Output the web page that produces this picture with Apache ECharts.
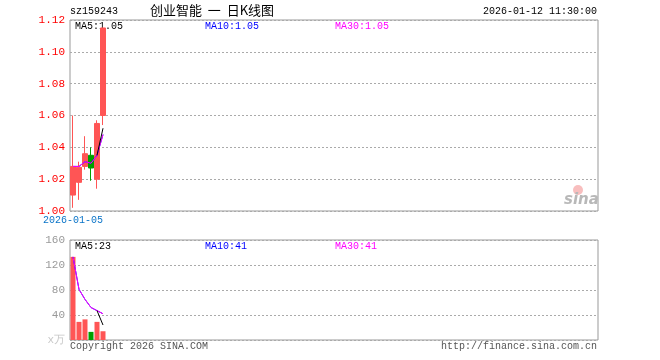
<!DOCTYPE html>
<html><head><meta charset="utf-8">
<script src="https://cdn.jsdelivr.net/npm/echarts@6/dist/echarts.min.js"></script>
<style>html,body{margin:0;padding:0;background:#fff}#c{width:660px;height:360px}</style>
</head><body><div id="c"></div>
<script>
const SLOTS = 88;
const dates = ['2026-01-05','2026-01-06','2026-01-07','2026-01-08','2026-01-09','2026-01-12'];
// [open, close, low, high]
const ohlc = [
  [1.010, 1.028, 1.002, 1.060],
  [1.018, 1.0275, 1.007, 1.031],
  [1.028, 1.036, 1.026, 1.047],
  [1.035, 1.027, 1.019, 1.040],
  [1.020, 1.055, 1.014, 1.057],
  [1.060, 1.115, 1.054, 1.115]
];
const ma5 = [null, null, null, null, 1.035, 1.052];
const ma10 = [1.028, 1.028, 1.031, 1.030, 1.035, 1.048];
const ma30 = [1.028, 1.028, 1.031, 1.030, 1.035, 1.048];
const volume = [133, 29, 33, 13, 29, 14];
const volMa5 = [null, null, null, null, 47, 24];
const volMa10 = [133, 81, 65, 52, 47, 42];
const volMa30 = [133, 81, 65, 52, 47, 42];
const priceTicks = {min: 1.00, max: 1.12, interval: 0.02};
const volTicks = {min: 0, max: 160, interval: 40};

const UP = '#ff5555', DOWN = '#00a000';
const MONO = '"Liberation Mono","DejaVu Sans Mono",monospace';

const cats = [];
for (let i = 0; i < SLOTS; i++) cats.push(i < dates.length ? dates[i] : '');
const isUp = ohlc.map(d => d[1] >= d[0]);

const chart = echarts.init(document.getElementById('c'), null, {renderer: 'canvas'});
const gridCommon = {left: 70, right: 62, show: true, borderColor: '#999', borderWidth: 1, backgroundColor: '#fff'};
chart.setOption({
  animation: false,
  grid: [
    Object.assign({top: 20, height: 191}, gridCommon),
    Object.assign({top: 240, height: 100}, gridCommon)
  ],
  xAxis: [
    {type: 'category', gridIndex: 0, data: cats, boundaryGap: true,
     axisLine: {show: false}, axisTick: {show: false}, splitLine: {show: false},
     axisLabel: {interval: 0, formatter: (v, i) => i === 0 ? v : '', color: '#0a74c8', fontFamily: MONO, fontSize: 10, margin: 4}},
    {type: 'category', gridIndex: 1, data: cats, boundaryGap: true,
     axisLine: {show: false}, axisTick: {show: false}, splitLine: {show: false}, axisLabel: {show: false}}
  ],
  yAxis: [
    {type: 'value', gridIndex: 0, min: priceTicks.min, max: priceTicks.max, interval: priceTicks.interval,
     axisLine: {show: false}, axisTick: {show: false},
     splitLine: {show: true, lineStyle: {type: [2, 2], color: '#aaa', width: 1}},
     axisLabel: {formatter: v => v.toFixed(2), color: '#ff0000', fontFamily: MONO, fontSize: 11, margin: 5}},
    {type: 'value', gridIndex: 1, min: volTicks.min, max: volTicks.max, interval: volTicks.interval,
     axisLine: {show: false}, axisTick: {show: false},
     splitLine: {show: true, lineStyle: {type: [2, 2], color: '#aaa', width: 1}},
     axisLabel: {formatter: v => v === 0 ? '{u|x万}' : String(v), color: '#999', fontFamily: MONO, fontSize: 11, margin: 5,
       rich: {u: {color: '#c8c8c8', fontFamily: MONO, fontSize: 11}}}}
  ],
  series: [
    {type: 'candlestick', xAxisIndex: 0, yAxisIndex: 0, data: ohlc, barWidth: 5,
     itemStyle: {color: UP, color0: DOWN, borderColor: UP, borderColor0: DOWN, borderWidth: 1}},
    {type: 'line', xAxisIndex: 0, yAxisIndex: 0, data: ma10, symbol: 'none', lineStyle: {color: '#0000ff', width: 1}},
    {type: 'line', xAxisIndex: 0, yAxisIndex: 0, data: ma30, symbol: 'none', lineStyle: {color: '#ff00ff', width: 1}},
    {type: 'line', xAxisIndex: 0, yAxisIndex: 0, data: ma5, symbol: 'none', lineStyle: {color: '#000000', width: 1}},
    {type: 'bar', xAxisIndex: 1, yAxisIndex: 1, barWidth: 5,
     data: volume.map((v, i) => ({value: v, itemStyle: {color: isUp[i] ? UP : DOWN}}))},
    {type: 'line', xAxisIndex: 1, yAxisIndex: 1, data: volMa10, symbol: 'none', lineStyle: {color: '#0000ff', width: 1}},
    {type: 'line', xAxisIndex: 1, yAxisIndex: 1, data: volMa30, symbol: 'none', lineStyle: {color: '#ff00ff', width: 1}},
    {type: 'line', xAxisIndex: 1, yAxisIndex: 1, data: volMa5, symbol: 'none', lineStyle: {color: '#000000', width: 1}}
  ],
  graphic: [
    {type: 'text', left: 70, top: 6, style: {text: 'sz159243', font: '10px ' + MONO, fill: '#000'}},
    {type: 'text', left: 150, top: 4, style: {text: '创业智能  一  日K线图', font: '13px "Noto Sans CJK SC"', fill: '#000'}},
    {type: 'text', right: 63, top: 6, style: {text: '2026-01-12 11:30:00', font: '10px ' + MONO, fill: '#000'}},
    {type: 'text', left: 75, top: 21, style: {text: 'MA5:1.05', font: '10px ' + MONO, fill: '#000'}},
    {type: 'text', left: 205, top: 21, style: {text: 'MA10:1.05', font: '10px ' + MONO, fill: '#0000ff'}},
    {type: 'text', left: 335, top: 21, style: {text: 'MA30:1.05', font: '10px ' + MONO, fill: '#ff00ff'}},
    {type: 'text', left: 75, top: 241, style: {text: 'MA5:23', font: '10px ' + MONO, fill: '#000'}},
    {type: 'text', left: 205, top: 241, style: {text: 'MA10:41', font: '10px ' + MONO, fill: '#0000ff'}},
    {type: 'text', left: 335, top: 241, style: {text: 'MA30:41', font: '10px ' + MONO, fill: '#ff00ff'}},
    {type: 'text', left: 70, top: 341, style: {text: 'Copyright 2026 SINA.COM', font: '10px ' + MONO, fill: '#555'}},
    {type: 'text', right: 63, top: 341, style: {text: 'http://finance.sina.com.cn', font: '10px ' + MONO, fill: '#555'}},
    {type: 'circle', shape: {cx: 578, cy: 190, r: 5}, style: {fill: 'rgba(240,110,110,0.45)'}},
    {type: 'text', left: 564, top: 193, style: {text: 'sina', font: 'italic bold 15px "DejaVu Sans"', fill: '#b8b8b8'}}
  ]
});
</script></body></html>
